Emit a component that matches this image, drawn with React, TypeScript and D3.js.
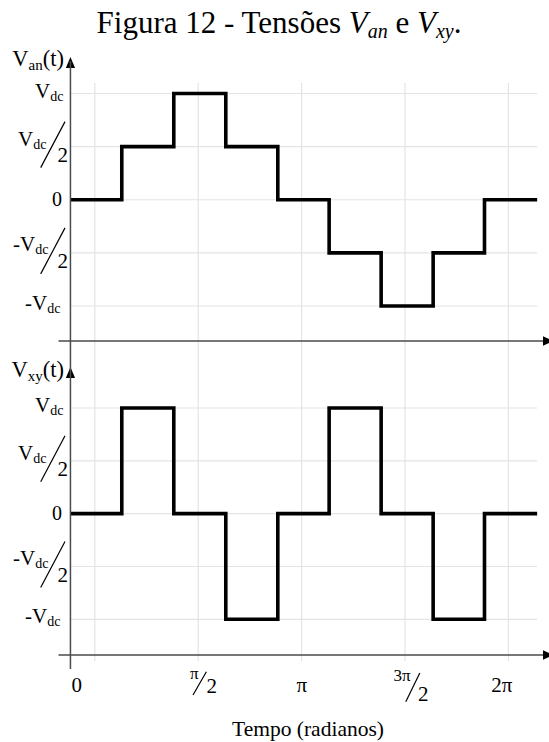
import React from "react";
import * as d3 from "d3";

// Step boundaries of both waveforms, in radians
const stepTimes = [-0.37, 0.41, 1.2, 1.99, 2.78, 3.56, 4.35, 5.14, 5.92, 6.72];
// Levels held between consecutive boundaries, in units of Vdc
const vanLevels = [0, 0.5, 1, 0.5, 0, -0.5, -1, -0.5, 0];
const vxyLevels = [0, 1, 0, -1, 0, 1, 0, -1, 0];
// Tick values
const levelTicks = [1, 0.5, 0, -0.5, -1];
const timeTicks = [0, Math.PI / 2, Math.PI, (3 * Math.PI) / 2, 2 * Math.PI];

const W = 549;
const H = 742;
const FONT = "'Liberation Serif', 'Times New Roman', serif";
const GRID = "#e4e4e4";
const AXIS = "#4a4a4a";

const x = d3.scaleLinear().domain([0, 2 * Math.PI]).range([94.8, 508.4]);

const panels = [
  { name: "an", levels: vanLevels, y: d3.scaleLinear().domain([-1, 1]).range([306, 93.5]), axisY: 341, arrowTip: 57, labelBase: 66 },
  { name: "xy", levels: vxyLevels, y: d3.scaleLinear().domain([-1, 1]).range([619.3, 408]), axisY: 655, arrowTip: 367, labelBase: 377 },
];

const axisX = x(stepTimes[0]);
const endX = x(stepTimes[stepTimes.length - 1]);

function LevelLabel({ v, L }: { v: number; L: number }) {
  const big = 21;
  const sub = 14;
  if (v === 0) {
    return (
      <text x={62} y={L + 6.5} fontSize={20} textAnchor="end">0</text>
    );
  }
  if (Math.abs(v) === 1) {
    const start = v > 0 ? 35 : 25;
    return (
      <text x={start} y={L + 4} fontSize={big}>
        {v > 0 ? "V" : "-V"}
        <tspan fontSize={sub} dy={3}>dc</tspan>
      </text>
    );
  }
  const start = v > 0 ? 18 : 13;
  const base = v > 0 ? L - 1 : L - 1.5;
  return (
    <g>
      <text x={start} y={base} fontSize={big}>
        {v > 0 ? "V" : "-V"}
        <tspan fontSize={sub} dy={3}>dc</tspan>
      </text>
      <line x1={40.7} y1={L + 21} x2={65} y2={L - 25} stroke="#000" strokeWidth={1.2} />
      <text x={57.5} y={L + 15.5} fontSize={big}>2</text>
    </g>
  );
}

function TimeLabel({ i, g }: { i: number; g: number }) {
  const base = 691.7;
  if (i === 0) return <text x={g - 18} y={base} fontSize={21} textAnchor="middle">0</text>;
  if (i === 2) return <text x={g + 0.3} y={base} fontSize={21} textAnchor="middle">π</text>;
  if (i === 4) return <text x={g - 6.7} y={base} fontSize={21} textAnchor="middle">2π</text>;
  if (i === 1) {
    return (
      <g>
        <text x={g - 4} y={679} fontSize={17} textAnchor="middle">π</text>
        <line x1={g - 5.2} y1={695} x2={g + 8.2} y2={671.7} stroke="#000" strokeWidth={1.2} />
        <text x={g + 8.3} y={693} fontSize={21}>2</text>
      </g>
    );
  }
  return (
    <g>
      <text x={g - 3} y={681} fontSize={17} textAnchor="middle">3π</text>
      <line x1={g + 0.8} y1={701.7} x2={g + 14.8} y2={673} stroke="#000" strokeWidth={1.2} />
      <text x={g + 13} y={701} fontSize={21}>2</text>
    </g>
  );
}

export default function App() {
  const lineFor = (levels: number[], y: d3.ScaleLinear<number, number>) =>
    d3
      .line<[number, number]>()
      .x((d) => x(d[0]))
      .y((d) => y(d[1]))
      .curve(d3.curveStepAfter)(
      stepTimes.map((t, i) => [t, levels[Math.min(i, levels.length - 1)]] as [number, number])
    );

  return (
    <svg
      width={W}
      height={H}
      viewBox={`0 0 ${W} ${H}`}
      style={{ position: "absolute", left: 0, top: 0, display: "block", background: "#fff" }}
      fontFamily={FONT}
      fill="#000"
    >
      <text x={279} y={33} fontSize={31} textAnchor="middle">
        {"Figura 12 - Tensões "}
        <tspan fontStyle="italic">V</tspan>
        <tspan fontStyle="italic" fontSize={20} dy={5}>an</tspan>
        <tspan dy={-5}>{" e "}</tspan>
        <tspan fontStyle="italic">V</tspan>
        <tspan fontStyle="italic" fontSize={20} dy={5}>xy</tspan>
        <tspan dy={-5}>.</tspan>
      </text>

      {/* vertical grid through both panels */}
      {timeTicks.map((t, i) => (
        <line key={`vg${i}`} x1={x(t)} x2={x(t)} y1={83} y2={661} stroke={GRID} strokeWidth={1.2} />
      ))}

      {panels.map((p) => (
        <g key={p.name}>
          {levelTicks.map((v) => (
            <line key={`hg${v}`} x1={axisX} x2={endX} y1={p.y(v)} y2={p.y(v)} stroke={GRID} strokeWidth={1.2} />
          ))}
          <line x1={58.5} x2={545} y1={p.axisY} y2={p.axisY} stroke={AXIS} strokeWidth={1.5} />
          <path d={`M553,${p.axisY} L543,${p.axisY - 4.8} L543,${p.axisY + 4.8} Z`} fill="#000" />
          <path d={`M${axisX},${p.arrowTip} L${axisX - 4.6},${p.arrowTip + 11} L${axisX + 4.6},${p.arrowTip + 11} Z`} fill="#000" />
          <text x={64} y={p.labelBase} fontSize={22.5} textAnchor="end">
            V<tspan fontSize={15} dy={4}>{p.name}</tspan>
            <tspan dy={-4}>(t)</tspan>
          </text>
          {levelTicks.map((v) => (
            <LevelLabel key={`ll${v}`} v={v} L={p.y(v)} />
          ))}
          <path
            d={lineFor(p.levels, p.y) || ""}
            fill="none"
            stroke="#000"
            strokeWidth={3.6}
            strokeLinejoin="miter"
          />
        </g>
      ))}

      {/* vertical axis shared by both panels */}
      <line x1={axisX} x2={axisX} y1={panels[0].arrowTip + 4} y2={669} stroke={AXIS} strokeWidth={1.5} />

      {timeTicks.map((t, i) => (
        <TimeLabel key={`tl${i}`} i={i} g={x(t)} />
      ))}

      <text x={308} y={736} fontSize={21.5} textAnchor="middle">Tempo (radianos)</text>
    </svg>
  );
}
